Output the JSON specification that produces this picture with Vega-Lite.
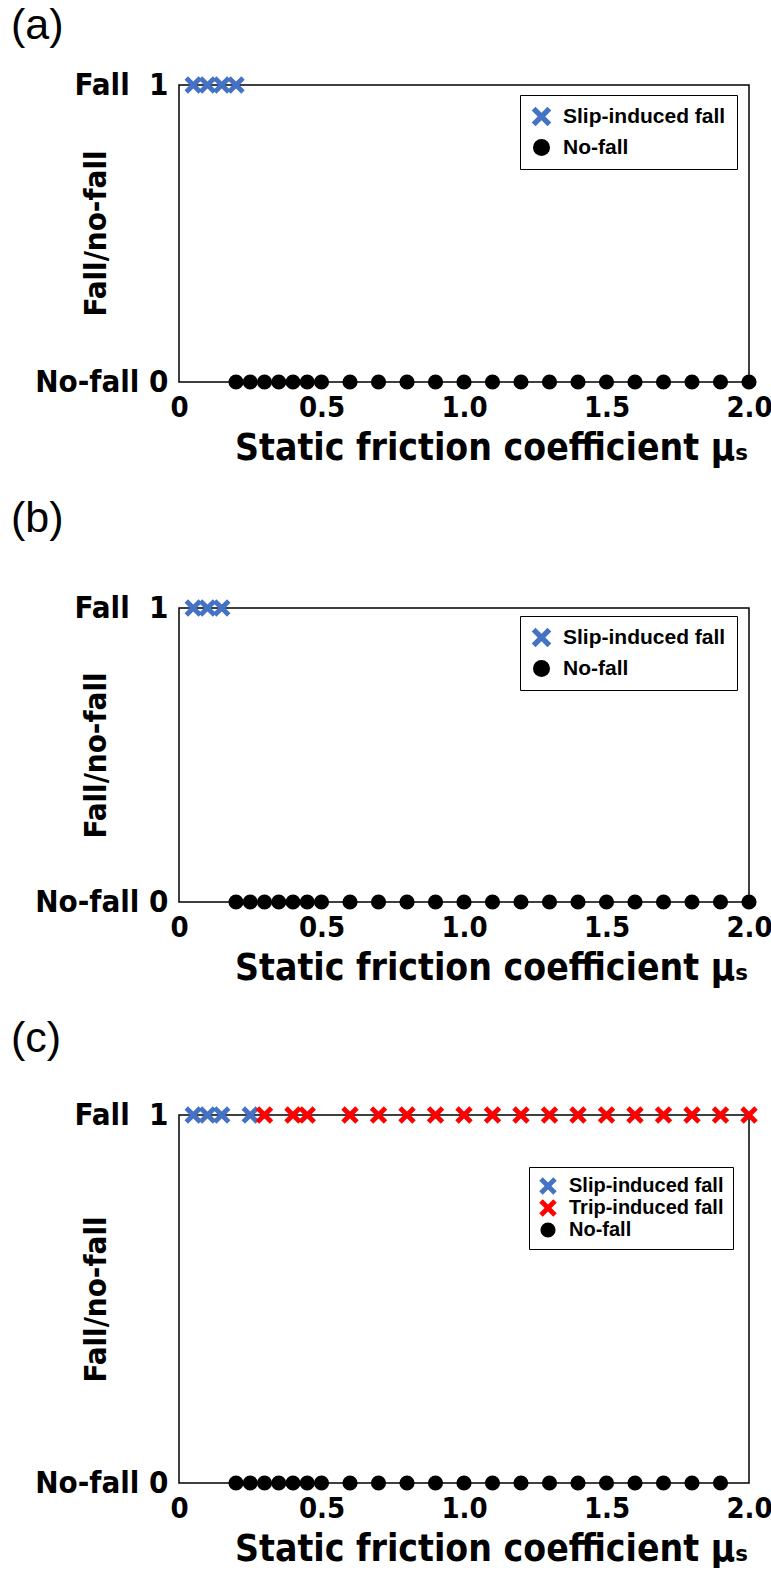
{
  "$schema": "https://vega.github.io/schema/vega-lite/v6.json",
  "background": "white",
  "padding": {"left": 10, "top": 4, "right": 0, "bottom": 0},
  "spacing": 30,
  "resolve": {"scale": {"color": "independent", "shape": "independent"}, "legend": {"color": "independent", "shape": "independent"}},
  "datasets": {
    "pts": [
      {"panel": "a", "mu": 0.05, "fall": 1, "type": "Slip-induced fall"},
      {"panel": "a", "mu": 0.1, "fall": 1, "type": "Slip-induced fall"},
      {"panel": "a", "mu": 0.15, "fall": 1, "type": "Slip-induced fall"},
      {"panel": "a", "mu": 0.2, "fall": 1, "type": "Slip-induced fall"},
      {"panel": "a", "mu": 0.2, "fall": 0, "type": "No-fall"},
      {"panel": "a", "mu": 0.25, "fall": 0, "type": "No-fall"},
      {"panel": "a", "mu": 0.3, "fall": 0, "type": "No-fall"},
      {"panel": "a", "mu": 0.35, "fall": 0, "type": "No-fall"},
      {"panel": "a", "mu": 0.4, "fall": 0, "type": "No-fall"},
      {"panel": "a", "mu": 0.45, "fall": 0, "type": "No-fall"},
      {"panel": "a", "mu": 0.5, "fall": 0, "type": "No-fall"},
      {"panel": "a", "mu": 0.6, "fall": 0, "type": "No-fall"},
      {"panel": "a", "mu": 0.7, "fall": 0, "type": "No-fall"},
      {"panel": "a", "mu": 0.8, "fall": 0, "type": "No-fall"},
      {"panel": "a", "mu": 0.9, "fall": 0, "type": "No-fall"},
      {"panel": "a", "mu": 1.0, "fall": 0, "type": "No-fall"},
      {"panel": "a", "mu": 1.1, "fall": 0, "type": "No-fall"},
      {"panel": "a", "mu": 1.2, "fall": 0, "type": "No-fall"},
      {"panel": "a", "mu": 1.3, "fall": 0, "type": "No-fall"},
      {"panel": "a", "mu": 1.4, "fall": 0, "type": "No-fall"},
      {"panel": "a", "mu": 1.5, "fall": 0, "type": "No-fall"},
      {"panel": "a", "mu": 1.6, "fall": 0, "type": "No-fall"},
      {"panel": "a", "mu": 1.7, "fall": 0, "type": "No-fall"},
      {"panel": "a", "mu": 1.8, "fall": 0, "type": "No-fall"},
      {"panel": "a", "mu": 1.9, "fall": 0, "type": "No-fall"},
      {"panel": "a", "mu": 2.0, "fall": 0, "type": "No-fall"},
      {"panel": "b", "mu": 0.05, "fall": 1, "type": "Slip-induced fall"},
      {"panel": "b", "mu": 0.1, "fall": 1, "type": "Slip-induced fall"},
      {"panel": "b", "mu": 0.15, "fall": 1, "type": "Slip-induced fall"},
      {"panel": "b", "mu": 0.2, "fall": 0, "type": "No-fall"},
      {"panel": "b", "mu": 0.25, "fall": 0, "type": "No-fall"},
      {"panel": "b", "mu": 0.3, "fall": 0, "type": "No-fall"},
      {"panel": "b", "mu": 0.35, "fall": 0, "type": "No-fall"},
      {"panel": "b", "mu": 0.4, "fall": 0, "type": "No-fall"},
      {"panel": "b", "mu": 0.45, "fall": 0, "type": "No-fall"},
      {"panel": "b", "mu": 0.5, "fall": 0, "type": "No-fall"},
      {"panel": "b", "mu": 0.6, "fall": 0, "type": "No-fall"},
      {"panel": "b", "mu": 0.7, "fall": 0, "type": "No-fall"},
      {"panel": "b", "mu": 0.8, "fall": 0, "type": "No-fall"},
      {"panel": "b", "mu": 0.9, "fall": 0, "type": "No-fall"},
      {"panel": "b", "mu": 1.0, "fall": 0, "type": "No-fall"},
      {"panel": "b", "mu": 1.1, "fall": 0, "type": "No-fall"},
      {"panel": "b", "mu": 1.2, "fall": 0, "type": "No-fall"},
      {"panel": "b", "mu": 1.3, "fall": 0, "type": "No-fall"},
      {"panel": "b", "mu": 1.4, "fall": 0, "type": "No-fall"},
      {"panel": "b", "mu": 1.5, "fall": 0, "type": "No-fall"},
      {"panel": "b", "mu": 1.6, "fall": 0, "type": "No-fall"},
      {"panel": "b", "mu": 1.7, "fall": 0, "type": "No-fall"},
      {"panel": "b", "mu": 1.8, "fall": 0, "type": "No-fall"},
      {"panel": "b", "mu": 1.9, "fall": 0, "type": "No-fall"},
      {"panel": "b", "mu": 2.0, "fall": 0, "type": "No-fall"},
      {"panel": "c", "mu": 0.05, "fall": 1, "type": "Slip-induced fall"},
      {"panel": "c", "mu": 0.1, "fall": 1, "type": "Slip-induced fall"},
      {"panel": "c", "mu": 0.15, "fall": 1, "type": "Slip-induced fall"},
      {"panel": "c", "mu": 0.25, "fall": 1, "type": "Slip-induced fall"},
      {"panel": "c", "mu": 0.3, "fall": 1, "type": "Trip-induced fall"},
      {"panel": "c", "mu": 0.4, "fall": 1, "type": "Trip-induced fall"},
      {"panel": "c", "mu": 0.45, "fall": 1, "type": "Trip-induced fall"},
      {"panel": "c", "mu": 0.6, "fall": 1, "type": "Trip-induced fall"},
      {"panel": "c", "mu": 0.7, "fall": 1, "type": "Trip-induced fall"},
      {"panel": "c", "mu": 0.8, "fall": 1, "type": "Trip-induced fall"},
      {"panel": "c", "mu": 0.9, "fall": 1, "type": "Trip-induced fall"},
      {"panel": "c", "mu": 1.0, "fall": 1, "type": "Trip-induced fall"},
      {"panel": "c", "mu": 1.1, "fall": 1, "type": "Trip-induced fall"},
      {"panel": "c", "mu": 1.2, "fall": 1, "type": "Trip-induced fall"},
      {"panel": "c", "mu": 1.3, "fall": 1, "type": "Trip-induced fall"},
      {"panel": "c", "mu": 1.4, "fall": 1, "type": "Trip-induced fall"},
      {"panel": "c", "mu": 1.5, "fall": 1, "type": "Trip-induced fall"},
      {"panel": "c", "mu": 1.6, "fall": 1, "type": "Trip-induced fall"},
      {"panel": "c", "mu": 1.7, "fall": 1, "type": "Trip-induced fall"},
      {"panel": "c", "mu": 1.8, "fall": 1, "type": "Trip-induced fall"},
      {"panel": "c", "mu": 1.9, "fall": 1, "type": "Trip-induced fall"},
      {"panel": "c", "mu": 2.0, "fall": 1, "type": "Trip-induced fall"},
      {"panel": "c", "mu": 0.2, "fall": 0, "type": "No-fall"},
      {"panel": "c", "mu": 0.25, "fall": 0, "type": "No-fall"},
      {"panel": "c", "mu": 0.3, "fall": 0, "type": "No-fall"},
      {"panel": "c", "mu": 0.35, "fall": 0, "type": "No-fall"},
      {"panel": "c", "mu": 0.4, "fall": 0, "type": "No-fall"},
      {"panel": "c", "mu": 0.45, "fall": 0, "type": "No-fall"},
      {"panel": "c", "mu": 0.5, "fall": 0, "type": "No-fall"},
      {"panel": "c", "mu": 0.6, "fall": 0, "type": "No-fall"},
      {"panel": "c", "mu": 0.7, "fall": 0, "type": "No-fall"},
      {"panel": "c", "mu": 0.8, "fall": 0, "type": "No-fall"},
      {"panel": "c", "mu": 0.9, "fall": 0, "type": "No-fall"},
      {"panel": "c", "mu": 1.0, "fall": 0, "type": "No-fall"},
      {"panel": "c", "mu": 1.1, "fall": 0, "type": "No-fall"},
      {"panel": "c", "mu": 1.2, "fall": 0, "type": "No-fall"},
      {"panel": "c", "mu": 1.3, "fall": 0, "type": "No-fall"},
      {"panel": "c", "mu": 1.4, "fall": 0, "type": "No-fall"},
      {"panel": "c", "mu": 1.5, "fall": 0, "type": "No-fall"},
      {"panel": "c", "mu": 1.6, "fall": 0, "type": "No-fall"},
      {"panel": "c", "mu": 1.7, "fall": 0, "type": "No-fall"},
      {"panel": "c", "mu": 1.8, "fall": 0, "type": "No-fall"},
      {"panel": "c", "mu": 1.9, "fall": 0, "type": "No-fall"}
    ]
  },
  "vconcat": [
    {
      "title": {"text": "(a)", "offset": 21},
      "width": 570,
      "height": 297,
      "data": {"name": "pts"},
      "transform": [{"filter": "datum.panel == 'a'"}],
      "mark": {"type": "point", "filled": true, "opacity": 1, "size": 230, "clip": false},
      "encoding": {
        "x": {"field": "mu", "type": "quantitative", "scale": {"domain": [0, 2], "nice": false, "zero": false}, "axis": {"title": "Static friction coefficient μₛ", "values": [0, 0.5, 1, 1.5, 2], "labelExpr": "datum.value == 0 ? '0' : format(datum.value, '.1f')"}},
        "y": {"field": "fall", "type": "quantitative", "scale": {"domain": [0, 1], "nice": false}, "axis": {"title": "Fall/no-fall", "values": [0, 1], "labelExpr": "datum.value == 1 ? 'Fall\u00a0\u00a01' : 'No-fall 0'", "titleY": 148}},
        "color": {"field": "type", "type": "nominal", "scale": {"domain": ["Slip-induced fall", "No-fall"], "range": ["#4472C4", "black"]}, "legend": {"legendX": 341, "legendY": 10}},
        "shape": {"field": "type", "type": "nominal", "scale": {"domain": ["Slip-induced fall", "No-fall"], "range": ["M-1.15,-0.7L-0.7,-1.15L0,-0.45L0.7,-1.15L1.15,-0.7L0.45,0L1.15,0.7L0.7,1.15L0,0.45L-0.7,1.15L-1.15,0.7L-0.45,0Z", "circle"]}, "legend": {"legendX": 341, "legendY": 10}}
      }
    },
    {
      "title": {"text": "(b)", "offset": 51},
      "width": 570,
      "height": 294,
      "data": {"name": "pts"},
      "transform": [{"filter": "datum.panel == 'b'"}],
      "mark": {"type": "point", "filled": true, "opacity": 1, "size": 230, "clip": false},
      "encoding": {
        "x": {"field": "mu", "type": "quantitative", "scale": {"domain": [0, 2], "nice": false, "zero": false}, "axis": {"title": "Static friction coefficient μₛ", "values": [0, 0.5, 1, 1.5, 2], "labelExpr": "datum.value == 0 ? '0' : format(datum.value, '.1f')"}},
        "y": {"field": "fall", "type": "quantitative", "scale": {"domain": [0, 1], "nice": false}, "axis": {"title": "Fall/no-fall", "values": [0, 1], "labelExpr": "datum.value == 1 ? 'Fall\u00a0\u00a01' : 'No-fall 0'", "titleY": 147}},
        "color": {"field": "type", "type": "nominal", "scale": {"domain": ["Slip-induced fall", "No-fall"], "range": ["#4472C4", "black"]}, "legend": {"legendX": 341, "legendY": 8}},
        "shape": {"field": "type", "type": "nominal", "scale": {"domain": ["Slip-induced fall", "No-fall"], "range": ["M-1.15,-0.7L-0.7,-1.15L0,-0.45L0.7,-1.15L1.15,-0.7L0.45,0L1.15,0.7L0.7,1.15L0,0.45L-0.7,1.15L-1.15,0.7L-0.45,0Z", "circle"]}, "legend": {"legendX": 341, "legendY": 8}}
      }
    },
    {
      "title": {"text": "(c)", "offset": 38},
      "width": 570,
      "height": 368,
      "data": {"name": "pts"},
      "transform": [{"filter": "datum.panel == 'c'"}],
      "mark": {"type": "point", "filled": true, "opacity": 1, "size": 230, "clip": false},
      "encoding": {
        "x": {"field": "mu", "type": "quantitative", "scale": {"domain": [0, 2], "nice": false, "zero": false}, "axis": {"title": "Static friction coefficient μₛ", "values": [0, 0.5, 1, 1.5, 2], "labelExpr": "datum.value == 0 ? '0' : format(datum.value, '.1f')"}},
        "y": {"field": "fall", "type": "quantitative", "scale": {"domain": [0, 1], "nice": false}, "axis": {"title": "Fall/no-fall", "values": [0, 1], "labelExpr": "datum.value == 1 ? 'Fall\u00a0\u00a01' : 'No-fall 0'", "titleY": 184}},
        "color": {"field": "type", "type": "nominal", "scale": {"domain": ["Slip-induced fall", "Trip-induced fall", "No-fall"], "range": ["#4472C4", "#FF0000", "black"]}, "legend": {"legendX": 350, "legendY": 52, "labelFontSize": 20, "symbolSize": 230, "rowPadding": 2, "padding": 9}},
        "shape": {"field": "type", "type": "nominal", "scale": {"domain": ["Slip-induced fall", "Trip-induced fall", "No-fall"], "range": ["M-1.15,-0.7L-0.7,-1.15L0,-0.45L0.7,-1.15L1.15,-0.7L0.45,0L1.15,0.7L0.7,1.15L0,0.45L-0.7,1.15L-1.15,0.7L-0.45,0Z", "M-1.15,-0.7L-0.7,-1.15L0,-0.45L0.7,-1.15L1.15,-0.7L0.45,0L1.15,0.7L0.7,1.15L0,0.45L-0.7,1.15L-1.15,0.7L-0.45,0Z", "circle"]}, "legend": {"legendX": 350, "legendY": 52, "labelFontSize": 20, "symbolSize": 230, "rowPadding": 2, "padding": 9}}
      }
    }
  ],
  "config": {
    "font": "Liberation Sans",
    "view": {"stroke": "black", "strokeWidth": 1.5},
    "title": {"anchor": "start", "frame": "group", "dx": -168, "fontSize": 43, "fontWeight": "normal", "font": "Liberation Sans", "color": "black"},
    "axis": {
      "domain": false, "ticks": false, "grid": false,
      "labelColor": "black", "titleColor": "black",
      "labelFont": "DejaVu Sans Condensed, sans-serif",
      "labelFontWeight": "bold", "labelFontSize": 31,
      "titleFont": "DejaVu Sans Condensed, sans-serif",
      "titleFontWeight": "bold", "titleFontSize": 37
    },
    "axisX": {"labelPadding": 11, "titlePadding": 8, "labelFlush": false, "labelFontSize": 29, "titleX": 312, "titleAlign": "center"},
    "axisY": {"labelPadding": 11, "titleX": -83, "titleFontSize": 31, "titleAngle": -90, "titleAlign": "center", "titleBaseline": "middle"},
    "legend": {
      "title": null, "orient": "none",
      "labelFont": "Liberation Sans", "labelFontWeight": "bold", "labelFontSize": 21, "labelColor": "black", "labelLimit": 400,
      "symbolSize": 290, "symbolStrokeWidth": 0, "symbolOpacity": 1,
      "padding": 11, "rowPadding": 9, "labelOffset": 11,
      "strokeColor": "black", "fillColor": "white", "cornerRadius": 0
    }
  }
}
